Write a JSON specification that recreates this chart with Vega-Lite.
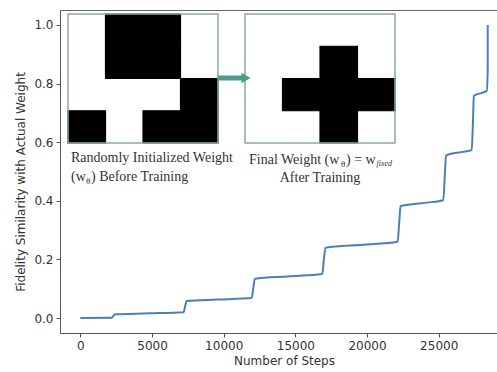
{
  "$schema": "https://vega.github.io/schema/vega-lite/v6.json",
  "width": 437,
  "height": 323,
  "autosize": "none",
  "padding": {"left": 60, "top": 10, "right": 0, "bottom": 39},
  "background": "white",
  "config": {
    "view": {"stroke": null},
    "axis": {
      "domainColor": "#555", "tickColor": "#555", "labelColor": "#333", "titleColor": "#333",
      "labelFont": "DejaVu Sans", "titleFont": "DejaVu Sans", "labelFontSize": 12, "titleFontSize": 12,
      "titleFontWeight": "normal", "tickSize": 4, "labelPadding": 3, "grid": false
    }
  },
  "datasets": {
    "curve": [
      {"step": 0, "fidelity": 0.0},
      {"step": 2200, "fidelity": 0.001},
      {"step": 2300, "fidelity": 0.007},
      {"step": 2420, "fidelity": 0.013},
      {"step": 4800, "fidelity": 0.016},
      {"step": 7200, "fidelity": 0.020},
      {"step": 7310, "fidelity": 0.040},
      {"step": 7420, "fidelity": 0.058},
      {"step": 9500, "fidelity": 0.063},
      {"step": 11950, "fidelity": 0.068},
      {"step": 12060, "fidelity": 0.100},
      {"step": 12170, "fidelity": 0.134},
      {"step": 14500, "fidelity": 0.142},
      {"step": 16880, "fidelity": 0.150},
      {"step": 16990, "fidelity": 0.200},
      {"step": 17100, "fidelity": 0.240},
      {"step": 19700, "fidelity": 0.250},
      {"step": 22130, "fidelity": 0.260},
      {"step": 22236, "fidelity": 0.320},
      {"step": 22340, "fidelity": 0.382},
      {"step": 23800, "fidelity": 0.392},
      {"step": 25320, "fidelity": 0.402},
      {"step": 25418, "fidelity": 0.480},
      {"step": 25510, "fidelity": 0.555},
      {"step": 26400, "fidelity": 0.565},
      {"step": 27300, "fidelity": 0.573},
      {"step": 27390, "fidelity": 0.670},
      {"step": 27450, "fidelity": 0.758},
      {"step": 28350, "fidelity": 0.775},
      {"step": 28420, "fidelity": 0.850},
      {"step": 28420, "fidelity": 1.0}
    ],
    "cells": [
      {"img": "before", "r": 0, "c": 0, "v": 0}, {"img": "before", "r": 0, "c": 1, "v": 1}, {"img": "before", "r": 0, "c": 2, "v": 1}, {"img": "before", "r": 0, "c": 3, "v": 0},
      {"img": "before", "r": 1, "c": 0, "v": 0}, {"img": "before", "r": 1, "c": 1, "v": 1}, {"img": "before", "r": 1, "c": 2, "v": 1}, {"img": "before", "r": 1, "c": 3, "v": 0},
      {"img": "before", "r": 2, "c": 0, "v": 0}, {"img": "before", "r": 2, "c": 1, "v": 0}, {"img": "before", "r": 2, "c": 2, "v": 0}, {"img": "before", "r": 2, "c": 3, "v": 1},
      {"img": "before", "r": 3, "c": 0, "v": 1}, {"img": "before", "r": 3, "c": 1, "v": 0}, {"img": "before", "r": 3, "c": 2, "v": 1}, {"img": "before", "r": 3, "c": 3, "v": 1},
      {"img": "after", "r": 0, "c": 0, "v": 0}, {"img": "after", "r": 0, "c": 1, "v": 0}, {"img": "after", "r": 0, "c": 2, "v": 0}, {"img": "after", "r": 0, "c": 3, "v": 0},
      {"img": "after", "r": 1, "c": 0, "v": 0}, {"img": "after", "r": 1, "c": 1, "v": 0}, {"img": "after", "r": 1, "c": 2, "v": 1}, {"img": "after", "r": 1, "c": 3, "v": 0},
      {"img": "after", "r": 2, "c": 0, "v": 0}, {"img": "after", "r": 2, "c": 1, "v": 1}, {"img": "after", "r": 2, "c": 2, "v": 1}, {"img": "after", "r": 2, "c": 3, "v": 1},
      {"img": "after", "r": 3, "c": 0, "v": 0}, {"img": "after", "r": 3, "c": 1, "v": 0}, {"img": "after", "r": 3, "c": 2, "v": 1}, {"img": "after", "r": 3, "c": 3, "v": 0}
    ]
  },
  "resolve": {"scale": {"x": "independent", "y": "independent"}},
  "layer": [
    {
      "data": {"name": "cells"},
      "transform": [{"filter": "datum.img == 'before'"}],
      "encoding": {
        "x": {"field": "c", "type": "quantitative", "scale": {"domain": [-0.7133, 10.94], "nice": false, "zero": false}, "axis": null},
        "y": {"field": "r", "type": "quantitative", "scale": {"domain": [-0.624, 9.3915], "nice": false, "zero": false, "reverse": true}, "axis": null}
      },
      "layer": [
        {
          "mark": {"type": "point", "shape": "M-1,-0.86H1V0.86H-1Z", "size": 1406.25, "filled": true, "opacity": 1, "strokeWidth": 1.2},
          "encoding": {
            "fill": {"field": "v", "type": "nominal", "scale": {"domain": [0, 1], "range": ["#ffffff", "#000000"]}, "legend": null},
            "stroke": {"field": "v", "type": "nominal", "scale": {"domain": [0, 1], "range": ["#ffffff", "#000000"]}, "legend": null},
            "order": {"field": "v", "type": "quantitative"}
          }
        },
        {
          "mark": {"type": "point", "shape": "M-1,-0.86H1V0.86H-1Z", "size": 22500, "filled": false, "opacity": 1, "stroke": "#8aaba3", "strokeWidth": 1.5},
          "encoding": {
            "x": {"aggregate": "mean", "field": "c", "type": "quantitative"},
            "y": {"aggregate": "mean", "field": "r", "type": "quantitative"}
          }
        }
      ]
    },
    {
      "data": {"name": "cells"},
      "transform": [{"filter": "datum.img == 'after'"}],
      "encoding": {
        "x": {"field": "c", "type": "quantitative", "scale": {"domain": [-5.4333, 6.22], "nice": false, "zero": false},
              "axis": {"orient": "top", "labels": false, "ticks": false, "title": null, "domain": true, "domainColor": "#666"}},
        "y": {"field": "r", "type": "quantitative", "scale": {"domain": [-0.624, 9.3915], "nice": false, "zero": false, "reverse": true}, "axis": null}
      },
      "layer": [
        {
          "mark": {"type": "point", "shape": "M-1,-0.86H1V0.86H-1Z", "size": 1406.25, "filled": true, "opacity": 1, "strokeWidth": 1.2},
          "encoding": {
            "fill": {"field": "v", "type": "nominal", "scale": {"domain": [0, 1], "range": ["#ffffff", "#000000"]}, "legend": null},
            "stroke": {"field": "v", "type": "nominal", "scale": {"domain": [0, 1], "range": ["#ffffff", "#000000"]}, "legend": null},
            "order": {"field": "v", "type": "quantitative"}
          }
        },
        {
          "mark": {"type": "point", "shape": "M-1,-0.86H1V0.86H-1Z", "size": 22500, "filled": false, "opacity": 1, "stroke": "#8aaba3", "strokeWidth": 1.5},
          "encoding": {
            "x": {"aggregate": "mean", "field": "c", "type": "quantitative"},
            "y": {"aggregate": "mean", "field": "r", "type": "quantitative"}
          }
        }
      ]
    },
    {
      "layer": [
        {
          "data": {"name": "curve"},
          "mark": {"type": "line", "color": "#4a80b8", "strokeWidth": 2, "interpolate": "monotone"},
          "encoding": {
            "x": {"field": "step", "type": "quantitative", "scale": {"domain": [-1420, 29066], "nice": false, "zero": false},
                  "axis": {"title": "Number of Steps", "values": [0, 5000, 10000, 15000, 20000, 25000], "format": "d", "titleX": 224, "titlePadding": 4}},
            "y": {"field": "fidelity", "type": "quantitative", "scale": {"domain": [-0.051, 1.051], "nice": false, "zero": false},
                  "axis": {"title": "Fidelity Similarity with Actual Weight", "values": [0, 0.2, 0.4, 0.6, 0.8, 1.0], "format": ".1f", "titleY": 171.5, "titlePadding": 6}}
          }
        },
        {
          "data": {"values": [{}]},
          "mark": {"type": "rule", "color": "#4f9a8a", "strokeWidth": 5},
          "encoding": {
            "x": {"datum": 9603, "type": "quantitative"},
            "x2": {"datum": 11346},
            "y": {"datum": 0.819, "type": "quantitative"}
          }
        },
        {
          "data": {"values": [{}]},
          "mark": {"type": "point", "shape": "triangle-right", "size": 110, "filled": true, "opacity": 1, "color": "#4f9a8a"},
          "encoding": {
            "x": {"datum": 11556, "type": "quantitative"},
            "y": {"datum": 0.819, "type": "quantitative"}
          }
        },
        {
          "data": {"values": [{}]},
          "mark": {"type": "text", "text": "Randomly Initialized Weight", "align": "left", "baseline": "middle", "font": "Liberation Serif", "fontSize": 14, "fill": "#333"},
          "encoding": {"x": {"datum": -652, "type": "quantitative"}, "y": {"datum": 0.546, "type": "quantitative"}}
        },
        {
          "data": {"values": [{}]},
          "mark": {"type": "text", "text": "(w", "align": "left", "baseline": "middle", "font": "Liberation Serif", "fontSize": 14, "fill": "#333"},
          "encoding": {"x": {"datum": -652, "type": "quantitative"}, "y": {"datum": 0.481, "type": "quantitative"}}
        },
        {
          "data": {"values": [{}]},
          "mark": {"type": "text", "text": "θ", "align": "left", "baseline": "middle", "font": "Liberation Serif", "fontSize": 9, "fill": "#333"},
          "encoding": {"x": {"datum": 394, "type": "quantitative"}, "y": {"datum": 0.469, "type": "quantitative"}}
        },
        {
          "data": {"values": [{}]},
          "mark": {"type": "text", "text": ") Before Training", "align": "left", "baseline": "middle", "font": "Liberation Serif", "fontSize": 14, "fill": "#333"},
          "encoding": {"x": {"datum": 742, "type": "quantitative"}, "y": {"datum": 0.481, "type": "quantitative"}}
        },
        {
          "data": {"values": [{}]},
          "mark": {"type": "text", "text": "Final Weight (w", "align": "left", "baseline": "middle", "font": "Liberation Serif", "fontSize": 14, "fill": "#333"},
          "encoding": {"x": {"datum": 11765, "type": "quantitative"}, "y": {"datum": 0.5392, "type": "quantitative"}}
        },
        {
          "data": {"values": [{}]},
          "mark": {"type": "text", "text": "θ", "align": "left", "baseline": "middle", "font": "Liberation Serif", "fontSize": 9, "fill": "#333"},
          "encoding": {"x": {"datum": 18183, "type": "quantitative"}, "y": {"datum": 0.5256, "type": "quantitative"}}
        },
        {
          "data": {"values": [{}]},
          "mark": {"type": "text", "text": ") = w", "align": "left", "baseline": "middle", "font": "Liberation Serif", "fontSize": 14, "fill": "#333"},
          "encoding": {"x": {"datum": 18532, "type": "quantitative"}, "y": {"datum": 0.5392, "type": "quantitative"}}
        },
        {
          "data": {"values": [{}]},
          "mark": {"type": "text", "text": "fixed", "align": "left", "baseline": "middle", "font": "Liberation Serif", "fontStyle": "italic", "fontSize": 8, "fill": "#333"},
          "encoding": {"x": {"datum": 20659, "type": "quantitative"}, "y": {"datum": 0.5256, "type": "quantitative"}}
        },
        {
          "data": {"values": [{}]},
          "mark": {"type": "text", "text": "After Training", "align": "center", "baseline": "middle", "font": "Liberation Serif", "fontSize": 14, "fill": "#333"},
          "encoding": {"x": {"datum": 16718, "type": "quantitative"}, "y": {"datum": 0.4778, "type": "quantitative"}}
        }
      ]
    }
  ]
}
